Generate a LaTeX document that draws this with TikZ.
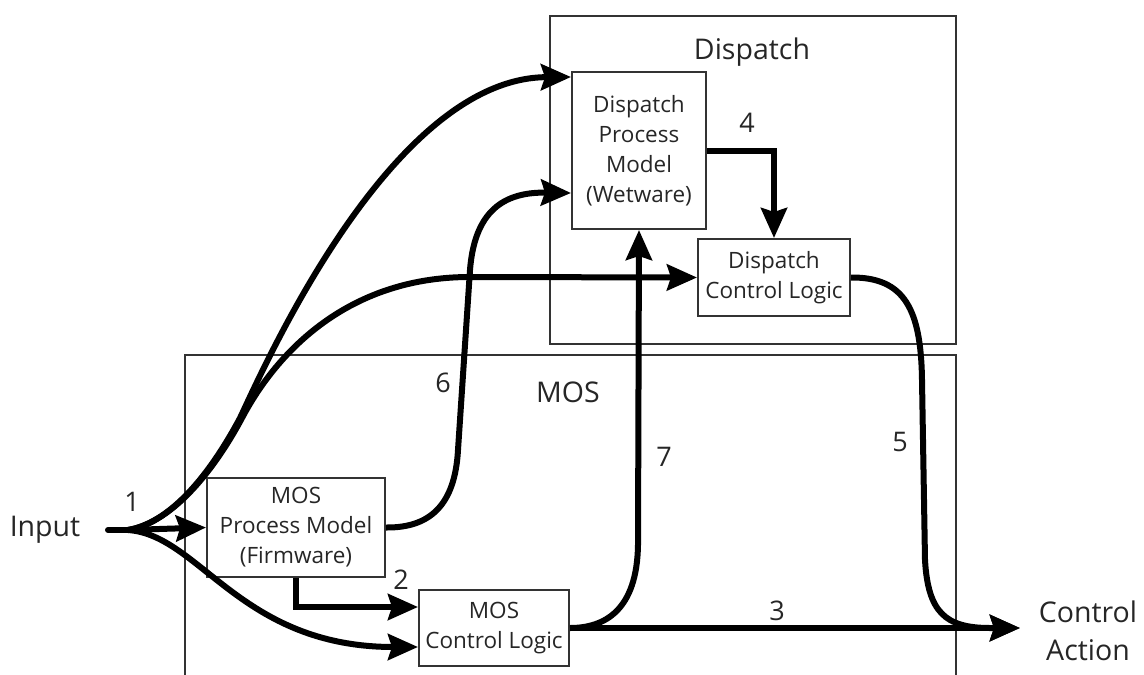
\documentclass[tikz,border=0pt]{standalone}
\usepackage{fontspec}
\setmainfont{Open Sans}
\usetikzlibrary{arrows.meta}
\begin{document}
\begin{tikzpicture}[x=1pt,y=-1pt,
  frame/.style={draw=black!80, line width=2pt},
  box/.style={draw=black!80, line width=2pt, align=center, inner sep=0pt,
    font=\fontsize{22.5}{30}\selectfont, text=black!85},
  big/.style={font=\fontsize{28.5}{38}\selectfont, text=black!85, align=center, inner sep=0pt},
  num/.style={font=\fontsize{27}{30}\selectfont, text=black!85, inner sep=0pt},
  plain/.style={line width=6pt, line cap=round},
  flow/.style={line width=6pt, -{Stealth[length=30pt,width=26pt,inset=4pt]}}
]
\useasboundingbox (0,0) rectangle (1144,675);

% subsystem frames
\node[frame, minimum width=406pt, minimum height=328pt] (dispatchframe) at (753,180) {};
\draw[frame] (185,676) -- (185,355) -- (956,355) -- (956,676);
\node[big] (disptitle) at (752,52) {Dispatch};
\node[big] (mostitle) at (568,392) {MOS};

% blocks
\node[box, minimum width=134pt, minimum height=157pt] (dpm) at (639,150.5)
  {Dispatch\\Process\\Model\\(Wetware)};
\node[box, minimum width=152pt, minimum height=77pt] (dcl) at (774,277.5)
  {Dispatch\\Control Logic};
\node[box, minimum width=178pt, minimum height=99pt] (mpm) at (296,527.5)
  {MOS\\Process Model\\(Firmware)};
\node[box, minimum width=150pt, minimum height=76pt] (mcl) at (494,628)
  {MOS\\Control Logic};

% terminals
\node[big] (input) at (45,530) {Input};
\node[big] (ctrlact) at (1088,631) {Control\\Action};
\coordinate (in0) at (108,530);
\coordinate (fork) at (128,530);
\coordinate (catip) at (1020,628);

% input fan-out
\draw[plain] (in0) -- (fork);
\draw[flow] (fork) -- (mpm.west);
\draw[flow, line cap=round] (fork) .. controls (175,522) and (215,465) .. (240,418)
  .. controls (262,372) and (390,78) .. ([yshift=-6pt]dpm.north west);
\draw[flow, line cap=round] (fork) .. controls (175,522) and (217,465) .. (242,418)
  .. controls (257,390) and (320,277) .. (470,277) -- (dcl.west);
\draw[flow, line cap=round] (fork) .. controls (200,535) and (240,647) .. ([yshift=-19pt]mcl.west);

% internal links
\draw[flow] (mpm.south) |- ([yshift=21pt]mcl.west);
\draw[flow] (mpm.east) .. controls (430,528) and (455,505) .. (458,450) -- (470,270)
  .. controls (475,205) and (510,192) .. ([yshift=37pt]dpm.south west);
\draw[flow] (mcl.east) .. controls (605,628) and (637,610) .. (638,545) -- (dpm.south);
\draw[flow] (dpm.east) -| (dcl.north);

% outputs
\draw[flow] (mcl.east) -- (catip);
\draw[flow] (dcl.east) .. controls (905,277) and (921,310) .. (922,380) -- (925,560)
  .. controls (928,612) and (945,628) .. (990,628) -- (catip);

% link numbers
\node[num] (n1) at (132,502) {1};
\node[num] (n2) at (401,580) {2};
\node[num] (n3) at (777,611) {3};
\node[num] (n4) at (747,123) {4};
\node[num] (n5) at (900,442) {5};
\node[num] (n6) at (443,383) {6};
\node[num] (n7) at (664,457) {7};
\end{tikzpicture}
\end{document}
